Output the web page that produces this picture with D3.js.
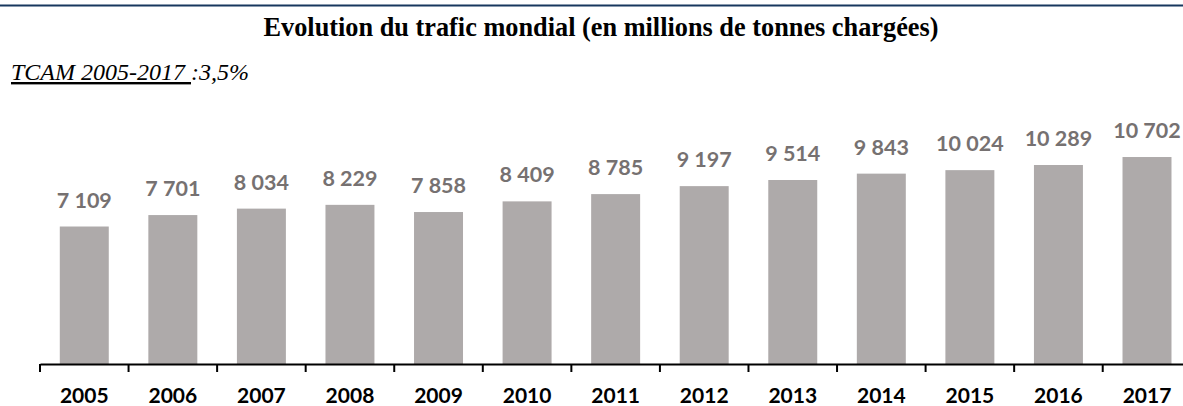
<!DOCTYPE html>
<html>
<head>
<meta charset="utf-8">
<script src="https://cdn.jsdelivr.net/npm/d3@7"></script>
<style>
  body { margin: 0; background: #fff; }
</style>
</head>
<body>
<div id="chart"></div>
<script>
// data
var years = ["2005", "2006", "2007", "2008", "2009", "2010", "2011", "2012", "2013", "2014", "2015", "2016", "2017"];
var traffic = [7109, 7701, 8034, 8229, 7858, 8409, 8785, 9197, 9514, 9843, 10024, 10289, 10702];
var title = "Evolution du trafic mondial (en millions de tonnes chargées)";
var subtitleUnderlined = "TCAM 2005-2017 ";
var subtitleRest = ":3,5%";

var width = 1183, height = 406;
var baseline = 364;

var svg = d3.select("#chart")
    .append("svg")
    .attr("width", width)
    .attr("height", height);

//top rule
svg.append("rect")
    .attr("x", 0)
    .attr("y", 4.5)
    .attr("width", width)
    .attr("height", 2)
    .attr("fill", "#17375e");

//title
svg.append("text")
    .attr("x", 601)
    .attr("y", 36)
    .attr("text-anchor", "middle")
    .attr("font-family", "Liberation Serif, Times New Roman, serif")
    .attr("font-weight", "bold")
    .attr("font-size", 26.3)
    .text(title);

//subtitle
var sub = svg.append("text")
    .attr("x", 11)
    .attr("y", 80)
    .attr("font-family", "Liberation Serif, Times New Roman, serif")
    .attr("font-style", "italic")
    .attr("font-size", 24);
sub.append("tspan")
    .attr("text-decoration", "underline")
    .style("white-space", "pre")
    .text(subtitleUnderlined);
sub.append("tspan").text(subtitleRest);

//x scale
var step = 88.56;
var xScale = d3.scaleBand()
    .domain(years)
    .range([40, 40 + step * years.length])
    .paddingInner(0.447)
    .paddingOuter(0.2235);

//y scale
var yScale = d3.scaleLinear()
    .domain([0, 12000])
    .range([baseline, baseline - 0.01934 * 12000]);

var gap = (xScale.step() - xScale.bandwidth()) / 2;

//bars
svg.selectAll(".bar")
    .data(years)
    .enter()
    .append("rect")
    .attr("class", "bar")
    .attr("x", function (d) { return xScale(d); })
    .attr("width", xScale.bandwidth())
    .attr("y", function (d, i) { return yScale(traffic[i]); })
    .attr("height", function (d, i) { return yScale(0) - yScale(traffic[i]); })
    .attr("fill", "#aeaaaa");

//value labels
var fmt = function (v) { return d3.format(",")(v).replace(",", " "); };
svg.selectAll(".val")
    .data(years)
    .enter()
    .append("text")
    .attr("class", "val")
    .attr("x", function (d) { return xScale(d) + xScale.bandwidth() / 2; })
    .attr("y", function (d, i) { return yScale(traffic[i]) - 19; })
    .attr("text-anchor", "middle")
    .attr("font-family", "Lato, sans-serif")
    .attr("font-weight", "bold")
    .attr("font-size", 21.5)
    .attr("fill", "#767171")
    .text(function (d, i) { return fmt(traffic[i]); });

//x axis
var x_axis = d3.axisBottom(xScale).tickSize(0).tickPadding(24).tickSizeOuter(0);
var ax = svg.append("g")
    .attr("transform", "translate(0," + baseline + ")")
    .call(x_axis);
ax.select(".domain")
    .attr("stroke", "#000")
    .attr("stroke-width", 2);
ax.selectAll("text")
    .attr("font-family", "Lato, sans-serif")
    .attr("font-weight", "bold")
    .attr("font-size", 21)
    .attr("fill", "#000");

//tick marks between categories
ax.selectAll(".sep")
    .data(years)
    .enter()
    .append("line")
    .attr("class", "sep")
    .attr("x1", function (d) { return xScale(d) - gap; })
    .attr("x2", function (d) { return xScale(d) - gap; })
    .attr("y1", 0)
    .attr("y2", 8)
    .attr("stroke", "#000")
    .attr("stroke-width", 2);
</script>
</body>
</html>
